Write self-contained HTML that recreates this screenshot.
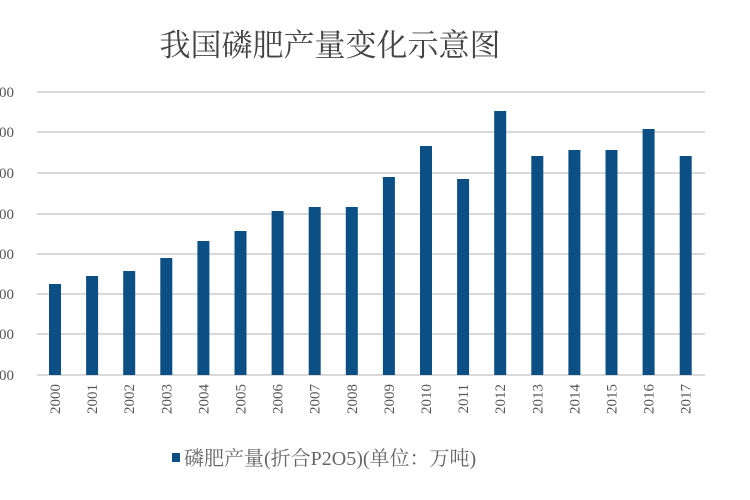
<!DOCTYPE html>
<html><head><meta charset="utf-8"><style>
html,body{margin:0;padding:0;background:#fff;}
svg{display:block;}
</style></head><body>
<svg width="750" height="500" xmlns="http://www.w3.org/2000/svg">
<rect width="750" height="500" fill="#fff"/>
<text x="330" y="56" text-anchor="middle" font-family="'Liberation Serif','Noto Serif CJK SC',serif" font-size="31" fill="#444">我国磷肥产量变化示意图</text>
<g stroke="#d9d9d9" stroke-width="2">
<line x1="37" x2="705" y1="92" y2="92"/>
<line x1="37" x2="705" y1="132" y2="132"/>
<line x1="37" x2="705" y1="173" y2="173"/>
<line x1="37" x2="705" y1="214" y2="214"/>
<line x1="37" x2="705" y1="254" y2="254"/>
<line x1="37" x2="705" y1="294" y2="294"/>
<line x1="37" x2="705" y1="334" y2="334"/>
<line x1="37" x2="705" y1="375" y2="375"/>
</g>
<g font-family="'Liberation Serif',serif" font-size="15" fill="#555" text-anchor="end">
<text x="14" y="97">00</text><text x="14" y="137">00</text><text x="14" y="178">00</text><text x="14" y="219">00</text>
<text x="14" y="259">00</text><text x="14" y="299">00</text><text x="14" y="339">00</text><text x="14" y="380">00</text>
</g>
<g fill="#0b4f85" id="bars"></g>
<g id="labels" font-family="'Liberation Serif',serif" font-size="15" fill="#555"></g>
<rect x="172" y="453" width="8" height="9" fill="#0b4f85"/>
<text x="184" y="465" font-family="'Liberation Serif','Noto Serif CJK SC',serif" font-size="20" fill="#666">磷肥产量(折合P2O5)(单位：万吨)</text>
<script>
var tops=[284,276,271,258,241,231,211,207,207,177,146,179,111,156,150,150,129,156];
var b=document.getElementById('bars'),l=document.getElementById('labels'),ns='http://www.w3.org/2000/svg';
for(var i=0;i<18;i++){var cx=55+i*37.1;
var r=document.createElementNS(ns,'rect');r.setAttribute('x',cx-6);r.setAttribute('y',tops[i]);r.setAttribute('width',12);r.setAttribute('height',375-tops[i]);b.appendChild(r);
var t=document.createElementNS(ns,'text');t.setAttribute('transform','translate('+(cx+5)+',384) rotate(-90)');t.setAttribute('text-anchor','end');t.textContent=2000+i;l.appendChild(t);}
</script>
</svg>
</body></html>
